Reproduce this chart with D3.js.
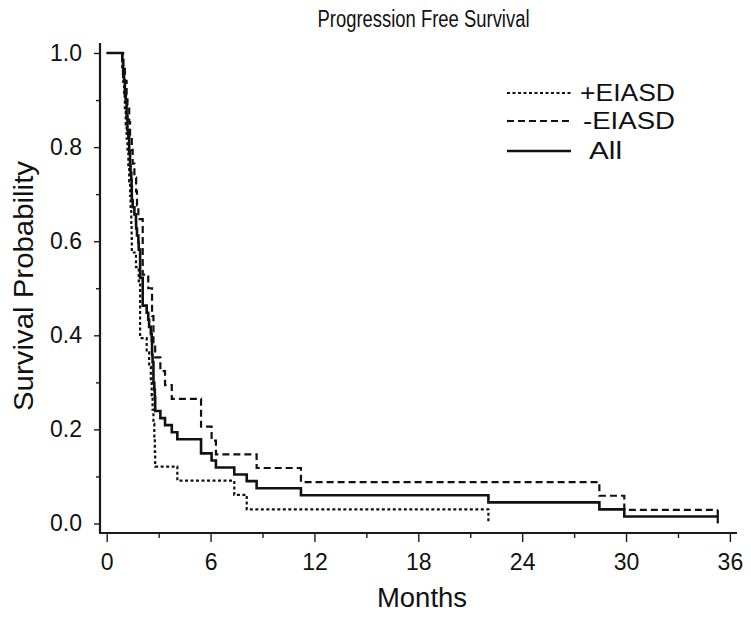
<!DOCTYPE html>
<html>
<head>
<meta charset="utf-8">
<script src="https://cdn.jsdelivr.net/npm/d3@7/dist/d3.min.js"></script>
<style>
  html, body { margin: 0; padding: 0; background: #fff; }
  svg { display: block; font-family: "Liberation Sans", Arial, Helvetica, sans-serif; }
</style>
</head>
<body>
<svg id="chart" width="751" height="617"></svg>
<script>
// ---- data ----
const title = "Progression Free Survival";
const xLabel = "Months";
const yLabel = "Survival Probability";
const xTicks = [0, 6, 12, 18, 24, 30, 36];
const xMinorTicks = [3, 9, 15, 21, 27, 33];
const yTicks = [0.0, 0.2, 0.4, 0.6, 0.8, 1.0];
const yMinorTicks = [0.1, 0.3, 0.5, 0.7, 0.9];
const seriesNames = ["+EIASD", "-EIASD", "All"];

// +EIASD (dotted) step curve: months, survival
const plusMonths = [0, 0.9, 0.95, 1.0, 1.05, 1.1, 1.15, 1.2, 1.25, 1.3, 1.35, 1.38, 1.42, 1.44, 1.45, 1.69, 1.85, 1.93, 2.31, 2.45, 2.55, 2.6, 2.65, 2.7, 2.75, 2.78, 2.8, 4.08, 7.37, 8.09, 22.05];
const plusSurv   = [1.0, 0.970, 0.939, 0.909, 0.879, 0.848, 0.818, 0.788, 0.758, 0.727, 0.697, 0.667, 0.636, 0.606, 0.576, 0.545, 0.515, 0.394, 0.364, 0.333, 0.303, 0.273, 0.242, 0.212, 0.182, 0.152, 0.121, 0.091, 0.061, 0.030, 0.0];

// -EIASD (dashed) step curve
const minusMonths = [0, 0.95, 1.05, 1.15, 1.2, 1.3, 1.35, 1.45, 1.5, 1.6, 1.7, 1.75, 1.83, 2.08, 2.4, 2.62, 2.7, 2.8, 3.1, 3.37, 3.76, 5.45, 6.06, 6.31, 8.66, 11.22, 28.46, 29.9, 35.3];
const minusSurv   = [1.0, 0.971, 0.941, 0.912, 0.882, 0.853, 0.824, 0.794, 0.765, 0.735, 0.706, 0.676, 0.647, 0.529, 0.500, 0.441, 0.382, 0.353, 0.324, 0.294, 0.265, 0.206, 0.176, 0.147, 0.118, 0.088, 0.059, 0.029, 0.029];

// All (solid) step curve
const allMonths = [0, 0.9, 0.95, 1.0, 1.05, 1.1, 1.15, 1.2, 1.25, 1.3, 1.35, 1.38, 1.42, 1.44, 1.45, 1.5, 1.6, 1.69, 1.7, 1.75, 1.83, 1.85, 1.93, 2.08, 2.31, 2.4, 2.45, 2.55, 2.6, 2.62, 2.65, 2.7, 2.75, 2.78, 2.8, 3.1, 3.37, 3.76, 4.08, 5.45, 6.06, 6.31, 7.37, 8.09, 8.66, 11.22, 22.05, 28.46, 29.9, 35.3];
const allSurv   = [1.0, 0.985, 0.955, 0.940, 0.910, 0.896, 0.866, 0.836, 0.821, 0.791, 0.761, 0.746, 0.731, 0.716, 0.687, 0.672, 0.657, 0.642, 0.627, 0.612, 0.597, 0.582, 0.522, 0.463, 0.448, 0.433, 0.418, 0.403, 0.388, 0.358, 0.343, 0.299, 0.284, 0.269, 0.239, 0.224, 0.209, 0.194, 0.179, 0.149, 0.134, 0.119, 0.104, 0.090, 0.075, 0.060, 0.045, 0.030, 0.015, 0.015];

// ---- drawing ----
const svg = d3.select("#chart");
const x = d3.scaleLinear().domain([0, 36]).range([106.7, 729.9]);
const y = d3.scaleLinear().domain([0, 1]).range([523.5, 53]);

const axisColor = "#1a1a1a";
const textColor = "#111";

// axes lines
svg.append("line").attr("x1", 100).attr("x2", 100).attr("y1", 43).attr("y2", 534)
  .attr("stroke", axisColor).attr("stroke-width", 2.2);
svg.append("line").attr("x1", 99).attr("x2", 737).attr("y1", 533).attr("y2", 533)
  .attr("stroke", axisColor).attr("stroke-width", 2.2);

// x axis via d3
const xAxisG = svg.append("g").attr("transform", "translate(0,533)")
  .call(d3.axisBottom(x).tickValues(xTicks).tickSize(9).tickPadding(12).tickFormat(d3.format("d")));
xAxisG.select(".domain").remove();
xAxisG.selectAll("line").attr("stroke", axisColor).attr("stroke-width", 1.4);
xAxisG.selectAll("text").attr("font-size", 23).attr("fill", textColor).attr("font-family", "Liberation Sans, Arial, sans-serif");

const xMinorG = svg.append("g").attr("transform", "translate(0,533)")
  .call(d3.axisBottom(x).tickValues(xMinorTicks).tickSize(5).tickFormat(""));
xMinorG.select(".domain").remove();
xMinorG.selectAll("line").attr("stroke", axisColor).attr("stroke-width", 1.4);

// y axis via d3
const yAxisG = svg.append("g").attr("transform", "translate(100,0)")
  .call(d3.axisLeft(y).tickValues(yTicks).tickSize(6).tickPadding(12).tickFormat(d3.format(".1f")));
yAxisG.select(".domain").remove();
yAxisG.selectAll("line").attr("stroke", axisColor).attr("stroke-width", 1.4);
yAxisG.selectAll("text").attr("font-size", 23).attr("fill", textColor).attr("font-family", "Liberation Sans, Arial, sans-serif");

const yMinorG = svg.append("g").attr("transform", "translate(100,0)")
  .call(d3.axisLeft(y).tickValues(yMinorTicks).tickSize(4).tickFormat(""));
yMinorG.select(".domain").remove();
yMinorG.selectAll("line").attr("stroke", axisColor).attr("stroke-width", 1.4);

// titles
svg.append("text").attr("x", 423.5).attr("y", 27).attr("text-anchor", "middle")
  .attr("font-size", 23).attr("fill", textColor)
  .attr("textLength", 212).attr("lengthAdjust", "spacingAndGlyphs").text(title);
svg.append("text").attr("x", 422).attr("y", 607).attr("text-anchor", "middle")
  .attr("font-size", 27).attr("fill", textColor)
  .attr("textLength", 90).attr("lengthAdjust", "spacingAndGlyphs").text(xLabel);
svg.append("text").attr("transform", "translate(33,286) rotate(-90)").attr("text-anchor", "middle")
  .attr("font-size", 27).attr("fill", textColor)
  .attr("textLength", 250).attr("lengthAdjust", "spacingAndGlyphs").text(yLabel);

// curves
const line = d3.line().x(d => x(d[0])).y(d => y(d[1])).curve(d3.curveStepAfter);
const styles = [
  { months: plusMonths, surv: plusSurv, dash: "3,2.5", width: 2.2 },
  { months: minusMonths, surv: minusSurv, dash: "7,4", width: 2.2 },
  { months: allMonths, surv: allSurv, dash: null, width: 2.6 }
];
styles.forEach(s => {
  const pts = s.months.map((m, i) => [m, s.surv[i]]);
  svg.append("path").datum(pts).attr("d", line)
    .attr("fill", "none").attr("stroke", textColor)
    .attr("stroke-width", s.width)
    .attr("stroke-dasharray", s.dash);
});

// censor tick at the end of the All curve
const lastM = allMonths[allMonths.length - 1], lastS = allSurv[allSurv.length - 1];
svg.append("line").attr("x1", x(lastM)).attr("x2", x(lastM))
  .attr("y1", y(lastS) - 6.5).attr("y2", y(lastS) + 7)
  .attr("stroke", textColor).attr("stroke-width", 2.2);

// legend
const legY = [93, 121, 151];
const legTextX = [580, 583, 589];
const legTextLen = [95, 92, 33];
seriesNames.forEach((name, i) => {
  svg.append("line").attr("x1", 507).attr("x2", 571).attr("y1", legY[i]).attr("y2", legY[i])
    .attr("stroke", textColor).attr("stroke-width", styles[i].width)
    .attr("stroke-dasharray", styles[i].dash);
  svg.append("text").attr("x", legTextX[i]).attr("y", legY[i] + 7.5)
    .attr("font-size", 23).attr("fill", textColor)
    .attr("textLength", legTextLen[i]).attr("lengthAdjust", "spacingAndGlyphs").text(name);
});
</script>
</body>
</html>
